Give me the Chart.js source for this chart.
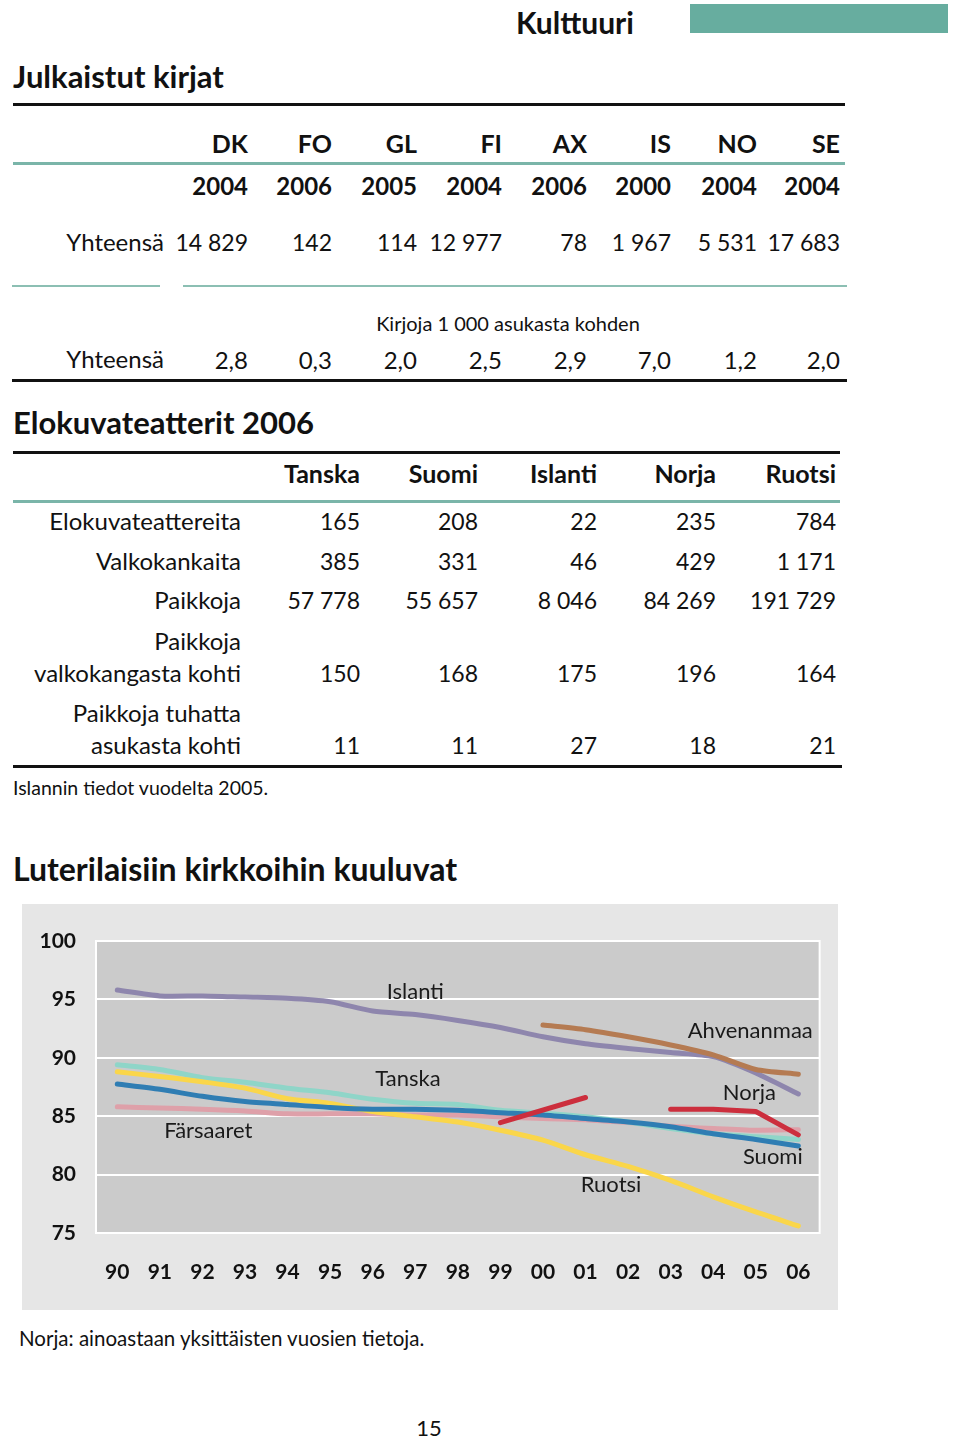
<!DOCTYPE html>
<html>
<head>
<meta charset="utf-8">
<script src="https://cdn.jsdelivr.net/npm/chart.js@4/dist/chart.umd.min.js"></script>
<style>
  html,body{margin:0;padding:0;background:#fff;}
  body{width:960px;height:1438px;position:relative;overflow:hidden;font-family:Lato,"Open Sans",sans-serif;color:#111;}
  .t{position:absolute;white-space:nowrap;}
  .b{font-weight:bold;}
  .rule{position:absolute;}
  #chartBox{position:absolute;left:22px;top:904px;width:816px;height:406px;background:#e6e6e6;}
  #chartBox canvas{position:absolute;left:0;top:0;}
</style>
</head>
<body>
<div id="page"></div>
<div id="chartBox"><canvas id="c" width="816" height="406"></canvas></div>
<script>
// ---------- data ----------
const bookCountries = ["DK","FO","GL","FI","AX","IS","NO","SE"];
const bookYears = ["2004","2006","2005","2004","2006","2000","2004","2004"];
const bookTotals = ["14 829","142","114","12 977","78","1 967","5 531","17 683"];
const bookPerThousand = ["2,8","0,3","2,0","2,5","2,9","7,0","1,2","2,0"];

const cinemaCountries = ["Tanska","Suomi","Islanti","Norja","Ruotsi"];
const cinemaRowLabels = [["Elokuvateattereita"],["Valkokankaita"],["Paikkoja"],["Paikkoja","valkokangasta kohti"],["Paikkoja tuhatta","asukasta kohti"]];
const cinemaTheatres = ["165","208","22","235","784"];
const cinemaScreens = ["385","331","46","429","1 171"];
const cinemaSeats = ["57 778","55 657","8 046","84 269","191 729"];
const cinemaSeatsPerScreen = ["150","168","175","196","164"];
const cinemaSeatsPerThousand = ["11","11","27","18","21"];

const years = ["90","91","92","93","94","95","96","97","98","99","00","01","02","03","04","05","06"];
const yTicks = [75,80,85,90,95,100];
const islanti    = [95.8,95.3,95.3,95.2,95.1,94.8,94.0,93.7,93.2,92.6,91.8,91.2,90.8,90.45,90.1,88.7,86.9];
const ahvenanmaa = [null,null,null,null,null,null,null,null,null,null,92.8,92.4,91.8,91.1,90.25,89.0,88.6];
const tanska     = [89.4,89.0,88.3,87.9,87.4,87.0,86.45,86.1,86.0,85.5,85.25,84.95,84.5,83.95,83.5,83.25,83.0];
const suomi      = [87.75,87.3,86.7,86.25,86.0,85.75,85.6,85.6,85.5,85.3,85.1,84.8,84.5,84.1,83.5,83.0,82.45];
const ruotsi     = [88.8,88.4,87.95,87.4,86.5,86.1,85.4,84.95,84.5,83.8,82.95,81.7,80.7,79.5,78.1,76.8,75.6];
const farsaaret  = [85.8,85.7,85.6,85.45,85.2,85.2,85.2,85.1,85.1,84.95,84.8,84.7,84.45,84.15,83.95,83.8,83.85];
const norja      = [null,null,null,null,null,null,null,null,null,84.45,null,86.6,null,85.6,85.6,85.4,83.4];

// ---------- static page text ----------
const page = document.getElementById('page');
function txt(s, x, y, size, opts){
  opts = opts || {};
  const d = document.createElement('div');
  d.className = 't' + (opts.bold ? ' b' : '');
  d.textContent = s;
  const lh = size * 1.4;
  d.style.fontSize = size + 'px';
  d.style.lineHeight = lh + 'px';
  d.style.top = (y - lh/2) + 'px';
  if (opts.align === 'right') { d.style.right = (960 - x) + 'px'; d.style.textAlign = 'right'; }
  else if (opts.align === 'center') { d.style.left = (x - 300) + 'px'; d.style.width = '600px'; d.style.textAlign = 'center'; }
  else d.style.left = x + 'px';
  page.appendChild(d);
}
function rule(x1, x2, y, h, color){
  const d = document.createElement('div');
  d.className = 'rule';
  d.style.left = x1 + 'px'; d.style.width = (x2 - x1) + 'px';
  d.style.top = (y - h/2) + 'px'; d.style.height = h + 'px';
  d.style.background = color;
  page.appendChild(d);
}
// header
txt("Kulttuuri", 516, 22, 30, {bold:true});
const bar = document.createElement('div');
bar.className='rule'; bar.style.left='690px'; bar.style.top='4px'; bar.style.width='258px'; bar.style.height='29px'; bar.style.background='#67ad9f';
page.appendChild(bar);

// book table
txt("Julkaistut kirjat", 13, 77, 31, {bold:true});
rule(13, 845, 104, 3, '#111');
const bookCols = [248,332,417,502,587,671,757,840];
bookCountries.forEach((s,i)=>txt(s, bookCols[i], 143, 25, {bold:true, align:'right'}));
rule(13, 845, 163, 3, '#7ab5a9');
bookYears.forEach((s,i)=>txt(s, bookCols[i], 186, 24, {bold:true, align:'right'}));
txt("Yhteensä", 164, 242, 24, {align:'right'});
bookTotals.forEach((s,i)=>txt(s, bookCols[i], 242, 23, {align:'right'}));
rule(12, 160, 286, 2, '#8cbfb3');
rule(183, 847, 286, 2, '#8cbfb3');
txt("Kirjoja 1 000 asukasta kohden", 508, 323, 20, {align:'center'});
txt("Yhteensä", 164, 359, 24, {align:'right'});
bookPerThousand.forEach((s,i)=>txt(s, bookCols[i], 360, 24, {align:'right'}));
rule(12, 847, 380, 3, '#111');

// cinema table
txt("Elokuvateatterit 2006", 13, 423, 31, {bold:true});
rule(13, 840, 452, 3, '#111');
const cinCols = [360,478,597,716,836];
cinemaCountries.forEach((s,i)=>txt(s, cinCols[i], 473, 25, {bold:true, align:'right'}));
rule(13, 840, 501, 3, '#7ab5a9');
const cinRows = [cinemaTheatres, cinemaScreens, cinemaSeats, cinemaSeatsPerScreen, cinemaSeatsPerThousand];
const cinRowY = [[521],[561],[600],[641,673],[713,745]];
cinRows.forEach((row, r)=>{
  const ys = cinRowY[r];
  cinemaRowLabels[r].forEach((lab, k)=>txt(lab, 241, ys[k], 24, {align:'right'}));
  const vy = ys[ys.length-1];
  row.forEach((s,i)=>txt(s, cinCols[i], vy, 23, {align:'right'}));
});
rule(13, 842, 766, 3, '#111');
txt("Islannin tiedot vuodelta 2005.", 13, 788, 19.5);

// chart section texts
txt("Luterilaisiin kirkkoihin kuuluvat", 13, 869, 32, {bold:true});
txt("Prosenttia väestöstä", 101, 921, 22);
txt("Norja: ainoastaan yksittäisten vuosien tietoja.", 19, 1338, 20.5);
txt("15", 429, 1428, 22, {align:'center'});

// ---------- chart ----------
const seriesLabels = [
  {text:"Islanti", x:7.0, y:95.6},
  {text:"Ahvenanmaa", x:14.87, y:92.3},
  {text:"Tanska", x:6.83, y:88.2},
  {text:"Norja", x:14.85, y:87.0},
  {text:"Färsaaret", x:2.14, y:83.7},
  {text:"Suomi", x:15.4, y:81.5},
  {text:"Ruotsi", x:11.6, y:79.1}
];

const plotBg = {
  id:'plotBg',
  beforeDraw(chart){
    const {ctx, chartArea:a} = chart;
    ctx.save();
    ctx.fillStyle = '#cbcbcb';
    ctx.fillRect(a.left, a.top, a.right - a.left, a.bottom - a.top);
    ctx.restore();
  },
  beforeDatasetsDraw(chart){
    const {ctx, chartArea:a} = chart;
    ctx.save();
    ctx.strokeStyle = '#ffffff';
    ctx.lineWidth = 2;
    ctx.strokeRect(a.left, a.top, a.right - a.left, a.bottom - a.top);
    ctx.restore();
  },
  afterDraw(chart){
    const {ctx, scales:{x, y}} = chart;
    ctx.save();
    ctx.font = '22px Lato, "Open Sans", sans-serif';
    ctx.fillStyle = '#1a1a1a';
    ctx.textAlign = 'center';
    ctx.textBaseline = 'middle';
    seriesLabels.forEach(l=>{
      ctx.fillText(l.text, x.getPixelForValue(l.x), y.getPixelForValue(l.y));
    });
    ctx.restore();
  }
};

function ds(label, data, color){
  return {label, data, borderColor: color, backgroundColor: color, borderWidth: 5,
    pointRadius: 0, pointHoverRadius: 0, tension: 0.25, fill: false, borderCapStyle: 'round', borderJoinStyle:'round'};
}
const norjaDs = ds("Norja", norja, '#cc2e3d');
norjaDs.spanGaps = true;
norjaDs.tension = 0;
// only years with data are joined; no line between 2001 and 2003
norjaDs.segment = { borderColor: c => ((c.p1DataIndex === 13 || c.p0DataIndex === 12) ? 'rgba(0,0,0,0)' : undefined) };

new Chart(document.getElementById('c'), {
  type: 'line',
  data: {
    labels: years,
    datasets: [
      norjaDs,
      ds("Suomi", suomi, '#2f7db3'),
      ds("Ruotsi", ruotsi, '#fad64a'),
      ds("Ahvenanmaa", ahvenanmaa, '#b57b52'),
      ds("Islanti", islanti, '#8e86ad'),
      ds("Tanska", tanska, '#8fd5c8'),
      ds("Färsaaret", farsaaret, '#dea0a9')
    ]
  },
  options: {
    responsive: false,
    devicePixelRatio: 1,
    animation: false,
    layout: { padding: { top: 37, right: 16, left: 0, bottom: 0 } },
    plugins: { legend: { display: false }, tooltip: { enabled: false }, title: { display: false } },
    scales: {
      x: {
        type: 'category',
        offset: true,
        grid: { display: false, drawTicks: false },
        border: { display: false },
        ticks: { color: '#111', font: { family: 'Lato', weight: 'bold', size: 21 }, padding: 27, maxRotation: 0, autoSkip: false },
        afterFit(s){ s.height = 77; }
      },
      y: {
        min: 75, max: 100,
        afterBuildTicks(s){ s.ticks = yTicks.map(v=>({value:v})); },
        grid: { color: '#ffffff', lineWidth: 2, drawTicks: false },
        border: { display: false },
        ticks: { color: '#111', font: { family: 'Lato', weight: 'bold', size: 21 }, padding: 20 },
        afterFit(s){ s.width = 74; }
      }
    }
  },
  plugins: [plotBg]
});
</script>
</body>
</html>
